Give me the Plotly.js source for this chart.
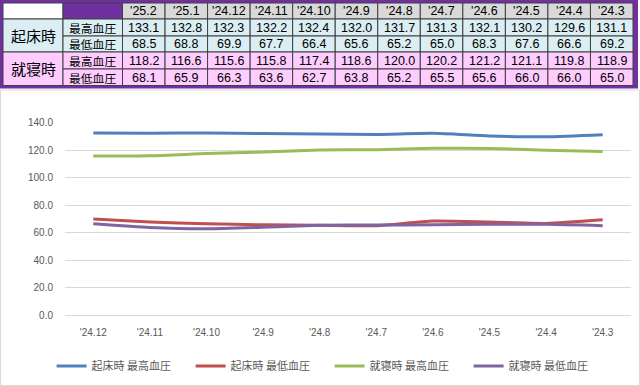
<!DOCTYPE html>
<html>
<head>
<meta charset="utf-8">
<script src="https://cdn.plot.ly/plotly-3.0.1.min.js"></script>
<style>html,body{margin:0;padding:0;background:#fff;}#chart{width:640px;height:386px;}</style>
</head>
<body>
<div id="chart"></div>
<script>
// ---- data ----
var months = ["'25.2","'25.1","'24.12","'24.11","'24.10","'24.9","'24.8","'24.7","'24.6","'24.5","'24.4","'24.3"];
var wakeHigh  = [133.1,132.8,132.3,132.2,132.4,132.0,131.7,131.3,132.1,130.2,129.6,131.1];
var wakeLow   = [68.5,68.8,69.9,67.7,66.4,65.6,65.2,65.0,68.3,67.6,66.6,69.2];
var sleepHigh = [118.2,116.6,115.6,115.8,117.4,118.6,120.0,120.2,121.2,121.1,119.8,118.9];
var sleepLow  = [68.1,65.9,66.3,63.6,62.7,63.8,65.2,65.5,65.6,66.0,66.0,65.0];
var groupLabels = ["起床時","就寝時"];
var rowLabels = ["最高血圧","最低血圧"];
var seriesNames = ["起床時 最高血圧","起床時 最低血圧","就寝時 最高血圧","就寝時 最低血圧"];
var yTicks = [0,20,40,60,80,100,120,140];
var chartStart = 2; // chart shows '24.12 .. '24.3

// ---- layout helpers ----
var W = 640, H = 386;
function px(x){ return x / W; }
function py(y){ return 1 - y / H; }

var shapes = [], ann = [];
var PURPLE = '#7030a0', LINE = '#404040';
var rowsY = [3, 19, 36, 52, 69, 85.5];
var c0 = 3, c1 = 63, c2 = 122.5, cEnd = 633;
var dw = (cEnd - c2) / months.length;
var CJK = '"Noto Sans CJK JP", sans-serif';
var NUM = '"Liberation Sans", Arial, sans-serif';

function rect(x0, y0, x1, y1, fill, lc, lw) {
  shapes.push({type:'rect', xref:'paper', yref:'paper', layer:'above',
    x0:px(x0), x1:px(x1), y0:py(y1), y1:py(y0),
    fillcolor:fill, line:{color:lc||'rgba(0,0,0,0)', width:lw===undefined?1:lw}});
}
function text(t, cx, cy, size, font) {
  ann.push({xref:'paper', yref:'paper', x:px(cx), y:py(cy), text:t, showarrow:false,
    xanchor:'center', yanchor:'middle', borderpad:0,
    font:{size:size, family:font, color:'#000'}});
}

// chart border
rect(0.5, 90, 639.5, 385.5, 'rgba(0,0,0,0)', '#d9d9d9', 1);
// frame
rect(0, 0, 638, 88.5, PURPLE, null, 0);
// top-left white
rect(c0, rowsY[0], c1, rowsY[1], '#ffffff', LINE, 1);
rect(c1, rowsY[0], c2, rowsY[1], PURPLE, LINE, 1);
// headers
months.forEach(function(m, i){
  var x0 = c2 + dw*i;
  rect(x0, rowsY[0], x0+dw, rowsY[1], '#d9d9d9', LINE, 1);
  text(m, x0 + dw/2, (rowsY[0]+rowsY[1])/2 + 0.5, 12.5, NUM);
});
var tableRows = [wakeHigh, wakeLow, sleepHigh, sleepLow];
var fills = ['#daeef3', '#ffccff'];
groupLabels.forEach(function(g, gi){
  var ya = rowsY[1 + gi*2], yb = rowsY[3 + gi*2];
  rect(c0, ya, c1, yb, fills[gi], LINE, 1);
  text(g, (c0+c1)/2, (ya+yb)/2, 15, CJK);
  rowLabels.forEach(function(r, ri){
    var y0 = rowsY[1 + gi*2 + ri], y1 = rowsY[2 + gi*2 + ri];
    rect(c1, y0, c2, y1, fills[gi], LINE, 1);
    text(r, (c1 + c2)/2, (y0+y1)/2, 11.8, CJK);
    var vals = tableRows[gi*2 + ri];
    vals.forEach(function(v, i){
      var x0 = c2 + dw*i;
      rect(x0, y0, x0+dw, y1, fills[gi], LINE, 1);
      text(v.toFixed(1), x0 + dw/2, (y0+y1)/2 + 0.5, 12.5, NUM);
    });
  });
});

// ---- chart traces ----
var colors = ['#4f81bd','#c0504d','#9bbb59','#8064a2'];
var xs = months.slice(chartStart);
var traces = tableRows.map(function(arr, i){
  return {type:'scatter', mode:'lines', name:seriesNames[i], x:xs, y:arr.slice(chartStart),
    line:{color:colors[i], width:3, shape:'spline', smoothing:0.6}, hoverinfo:'skip'};
});

var layout = {
  width:W, height:H, margin:{l:0,r:0,t:0,b:0}, paper_bgcolor:'#fff', plot_bgcolor:'#fff',
  showlegend:true,
  xaxis:{domain:[px(65), px(631)], type:'category', range:[-0.5, xs.length-0.5],
    showgrid:false, zeroline:false, showline:true, linecolor:'#d9d9d9', linewidth:1,
    ticks:'', ticklabelstandoff:8,
    tickfont:{size:10, family:NUM, color:'#595959'}, fixedrange:true},
  yaxis:{domain:[py(315), py(122.5)], range:[0,140], tickvals:yTicks,
    ticktext:yTicks.map(function(v){return v.toFixed(1);}),
    showgrid:true, gridcolor:'#d9d9d9', gridwidth:1, zeroline:false, showline:false,
    ticks:'', ticklabelstandoff:11,
    tickfont:{size:10, family:NUM, color:'#595959'}, fixedrange:true},
  legend:{orientation:'h', x:0.515, xanchor:'center', y:py(366), yanchor:'middle',
    font:{size:11, family:CJK, color:'#595959'}, itemwidth:30, entrywidth:94, tracegroupgap:0},
  shapes:shapes, annotations:ann
};
Plotly.newPlot('chart', traces, layout, {displayModeBar:false, staticPlot:true});
</script>
</body>
</html>
